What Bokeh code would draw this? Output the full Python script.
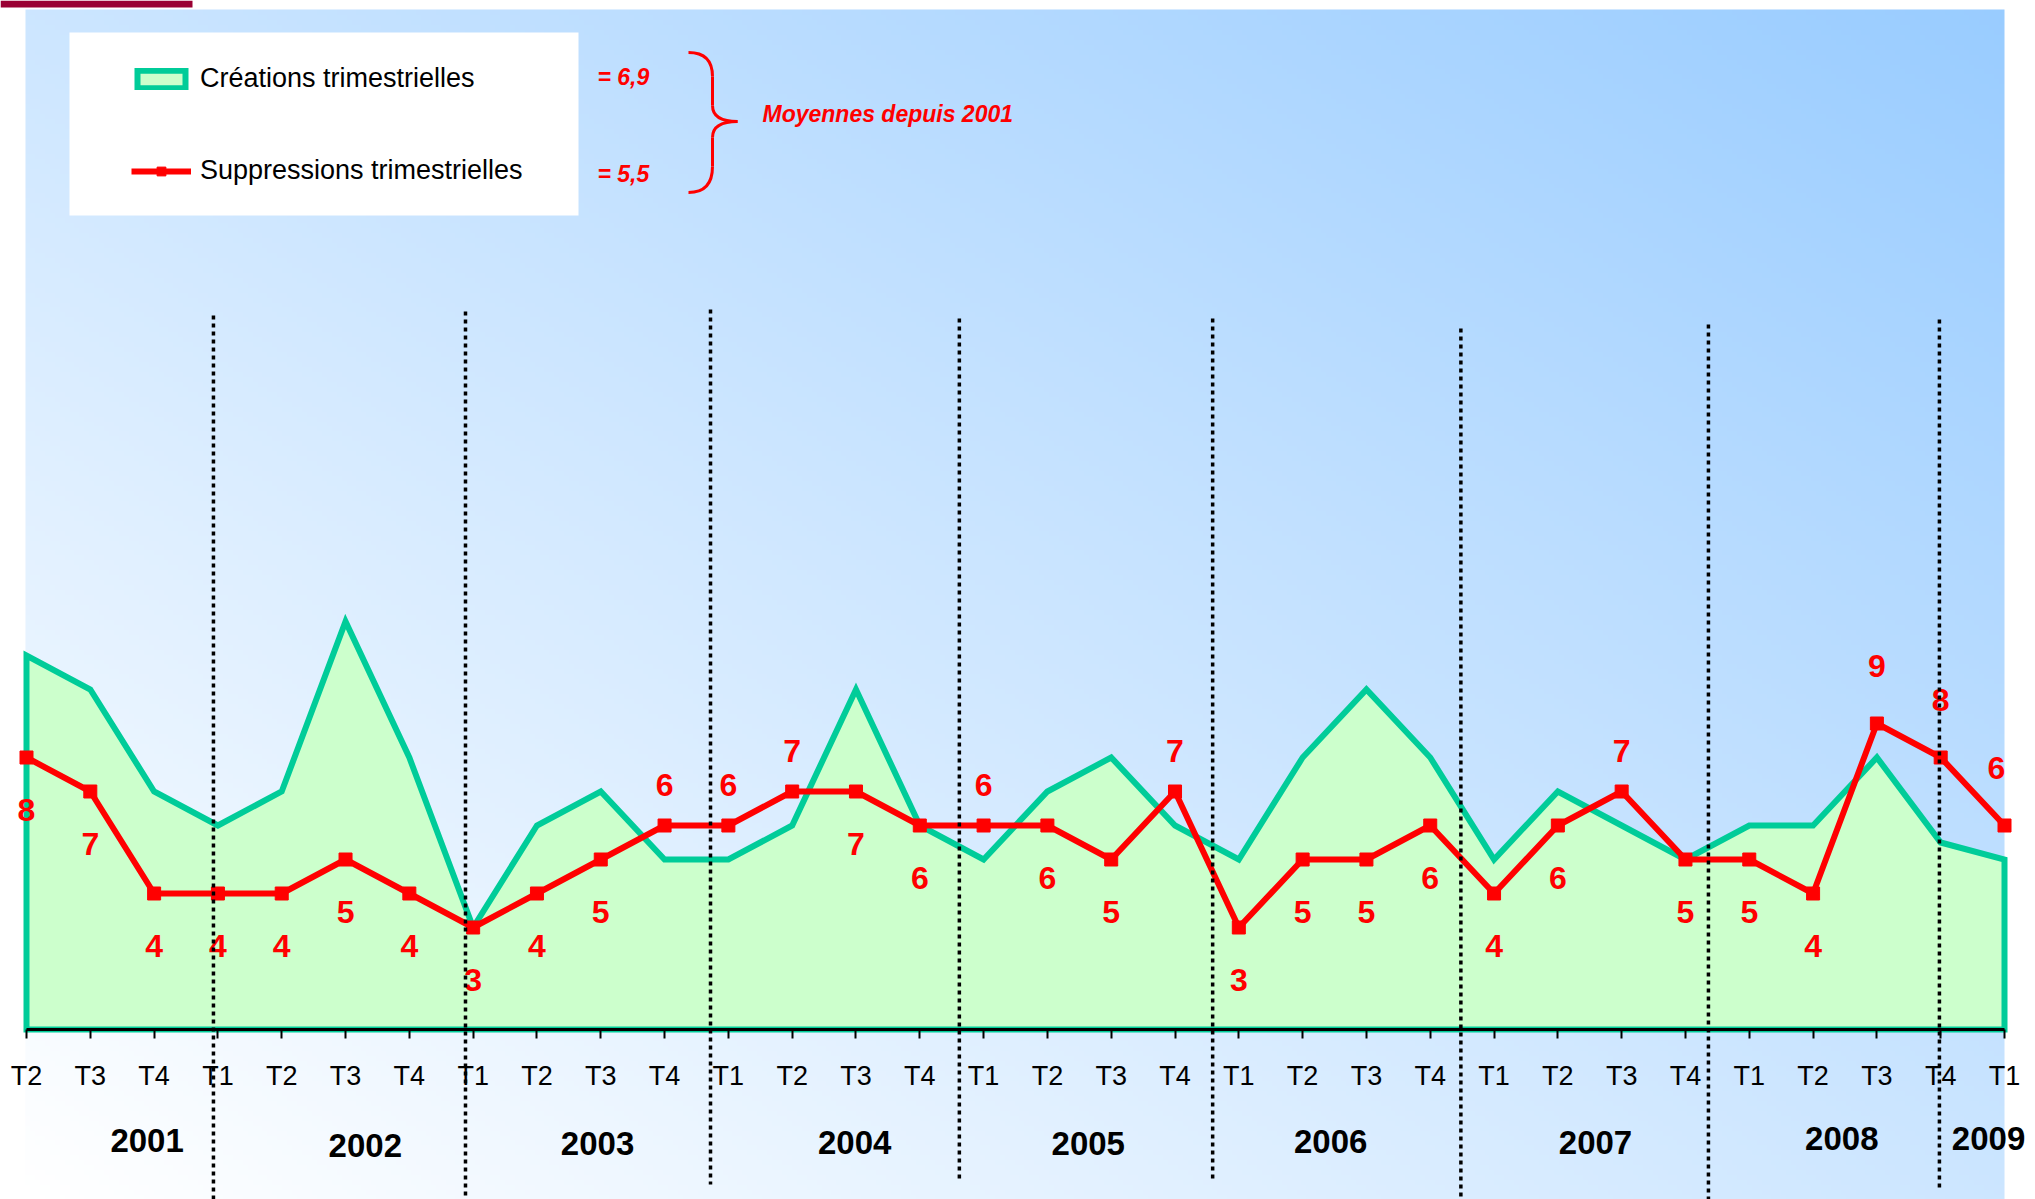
import numpy as np
from bokeh.plotting import figure
from bokeh.models import Range1d, LinearAxis, FixedTicker, Legend, LegendItem, ColumnDataSource
from bokeh.core.properties import value
from bokeh.embed import file_html
from bokeh.resources import INLINE

# ---- data -------------------------------------------------------------
quarters = ["T2", "T3", "T4"] + ["T1", "T2", "T3", "T4"] * 7 + ["T1"]
years = ["2001", "2002", "2003", "2004", "2005", "2006", "2007", "2008", "2009"]
creations = [11, 10, 7, 6, 7, 12, 8, 3, 6, 7, 5, 5, 6, 10, 6, 5,
             7, 8, 6, 5, 8, 10, 8, 5, 7, 6, 5, 6, 6, 8, 5.5, 5]
suppressions = [8, 7, 4, 4, 4, 5, 4, 3, 4, 5, 6, 6, 7, 7, 6, 6,
                6, 5, 7, 3, 5, 5, 6, 4, 6, 7, 5, 5, 4, 9, 8, 6]

# label placement for the suppression values: b = below, a = above, h = high above
label_side = ["b"] * 10 + ["a", "a", "a", "b", "b", "a", "b", "b", "a",
              "b", "b", "b", "b", "b", "b", "a", "b", "b", "b", "h", "h", "h"]
label_dx = [0] * 31 + [-8]

# year captions (x in quarter index, y as pixel rows) and year separators
year_x = [1.89, 5.31, 8.95, 12.98, 16.64, 20.44, 24.59, 28.45, 30.75]
year_y_px = [1139.5, 1144.6, 1143.3, 1142, 1143.3, 1140.8, 1142, 1138.2, 1138.2]
sep_x = [2.93, 6.88, 10.72, 14.62, 18.59, 22.48, 26.36, 29.98]
sep_top_px = [315, 311, 309, 318, 318, 328, 324, 319]
sep_bot_px = [1199, 1199, 1184, 1181, 1181, 1199, 1199, 1189]

# ---- geometry ---------------------------------------------------------
W, H = 2035, 1199
X0, X1 = 26, 2004          # pixel columns of first / last quarter
Y0, UNIT = 1029, 34.0      # pixel row of zero, pixels per unit
DX = (X1 - X0) / (len(quarters) - 1)


def dx(px):
    return (px - X0) / DX


def dy(py):
    return (Y0 - py) / UNIT


FONT = value("Liberation Sans")
RED = "#FF0000"

p = figure(width=W, height=H,
           x_range=Range1d(dx(0), dx(W)), y_range=Range1d(dy(H), dy(0)),
           output_backend="svg", toolbar_location=None,
           x_axis_location=None, y_axis_location=None,
           min_border=0, outline_line_color=None,
           background_fill_color="white", border_fill_color="white")
p.grid.grid_line_color = None

# ---- diagonal background gradient (white bottom-left -> blue top-right)
gx0, gx1, gy0 = 25, 2004, 9
nr, nc = 240, 400
u = np.linspace(0.0, 1.0, nc)[None, :]
v = np.linspace(1.0, 0.0, nr)[:, None]      # row 0 is the bottom
t = (u + (1.0 - v)) / 2.0
img = np.empty((nr, nc), dtype=np.uint32)
view = img.view(dtype=np.uint8).reshape((nr, nc, 4))
view[:, :, 0] = np.round(255 - 102 * t).astype(np.uint8)
view[:, :, 1] = np.round(255 - 51 * t).astype(np.uint8)
view[:, :, 2] = 255
view[:, :, 3] = 255
p.image_rgba(image=[img], x=dx(gx0), y=dy(H), dw=dx(gx1) - dx(gx0), dh=dy(gy0) - dy(H))

# dark accent bar at the top left
p.quad(left=dx(0), right=dx(192), top=dy(0), bottom=dy(7), fill_color="#990033", line_color=None)

# legend panel
p.quad(left=dx(69), right=dx(578), top=dy(32), bottom=dy(215), fill_color="white", line_color=None)

# ---- series -----------------------------------------------------------
idx = list(range(len(quarters)))
area = p.patch(x=[idx[0]] + idx + [idx[-1]], y=[0] + creations + [0],
               fill_color="#CCFFCC", line_color="#00CC99", line_width=6, line_join="miter")
line = p.line(idx, suppressions, line_color=RED, line_width=6)
marks = p.scatter(idx, suppressions, marker="square", size=13, fill_color=RED, line_color=RED)

# vertical distance (px) from the point to the centre of its value label
offsets = {"b": 52, "a": -41, "h": -58}
lab = ColumnDataSource(dict(x=idx, y=suppressions, text=[str(s) for s in suppressions],
                            yo=[offsets[s] for s in label_side], xo=label_dx))
p.text(x="x", y="y", text="text", x_offset="xo", y_offset="yo", source=lab,
       text_color=RED, text_font=FONT, text_font_style="bold", text_font_size="32px",
       text_align="center", text_baseline="alphabetic")

# ---- x axis on the zero line -------------------------------------------
ax = LinearAxis(fixed_location=0, ticker=FixedTicker(ticks=idx), bounds=(idx[0], idx[-1]),
                major_label_overrides={i: q for i, q in enumerate(quarters)})
ax.axis_line_color = "black"
ax.axis_line_width = 3
ax.major_tick_line_color = "black"
ax.major_tick_line_width = 2
ax.major_tick_out = 9
ax.major_tick_in = 0
ax.minor_tick_line_color = None
ax.major_label_text_font = "Liberation Sans"
ax.major_label_text_font_size = "27px"
ax.major_label_text_color = "black"
ax.major_label_standoff = 22
p.add_layout(ax, "below")

# year captions
p.text(x=year_x, y=[dy(c) for c in year_y_px], text=years,
       text_color="black", text_font=FONT, text_font_style="bold", text_font_size="33px",
       text_align="center", text_baseline="alphabetic")

# ---- averages annotation ------------------------------------------------
avg_c = "= " + f"{np.mean(creations):.1f}".replace(".", ",")
avg_s = "= " + f"{np.mean(suppressions):.1f}".replace(".", ",")
p.text(x=[dx(597), dx(597)], y=[dy(76), dy(173)], text=[avg_c, avg_s],
       text_color=RED, text_font=FONT, text_font_style="bold italic", text_font_size="23px",
       text_align="left", text_baseline="alphabetic")
p.text(x=[dx(762)], y=[dy(113)], text=["Moyennes depuis 2001"],
       text_color=RED, text_font=FONT, text_font_style="bold italic", text_font_size="23px",
       text_align="left", text_baseline="alphabetic")

# curly brace
bx, tipx = 712, 737
p.quadratic(x0=[dx(688), dx(bx), dx(tipx), dx(bx)],
            y0=[dy(52), dy(105), dy(121), dy(166)],
            x1=[dx(bx), dx(tipx), dx(bx), dx(688)],
            y1=[dy(76), dy(121), dy(137), dy(192)],
            cx=[dx(bx), dx(bx), dx(bx), dx(bx)],
            cy=[dy(52), dy(121), dy(121), dy(192)],
            line_color=RED, line_width=3)
p.segment(x0=[dx(bx), dx(bx)], y0=[dy(76), dy(137)], x1=[dx(bx), dx(bx)], y1=[dy(105), dy(166)],
          line_color=RED, line_width=3)

# year separators
p.segment(x0=sep_x, y0=[dy(v) for v in sep_top_px], x1=sep_x, y1=[dy(v) for v in sep_bot_px],
          line_color="black", line_width=3.5, line_dash="4 4", level="overlay")

# ---- legend -------------------------------------------------------------
legend = Legend(items=[LegendItem(label="Créations trimestrielles", renderers=[area]),
                       LegendItem(label="Suppressions trimestrielles", renderers=[line, marks])],
                location=(131, 1013), orientation="vertical", padding=0, margin=0,
                spacing=61, glyph_width=60, glyph_height=22, label_height=22, label_standoff=9,
                label_text_font="Liberation Sans", label_text_font_size="27px",
                label_text_color="black", background_fill_alpha=0, border_line_color=None)
p.add_layout(legend)

open("out.html", "w").write(file_html(p, INLINE))
